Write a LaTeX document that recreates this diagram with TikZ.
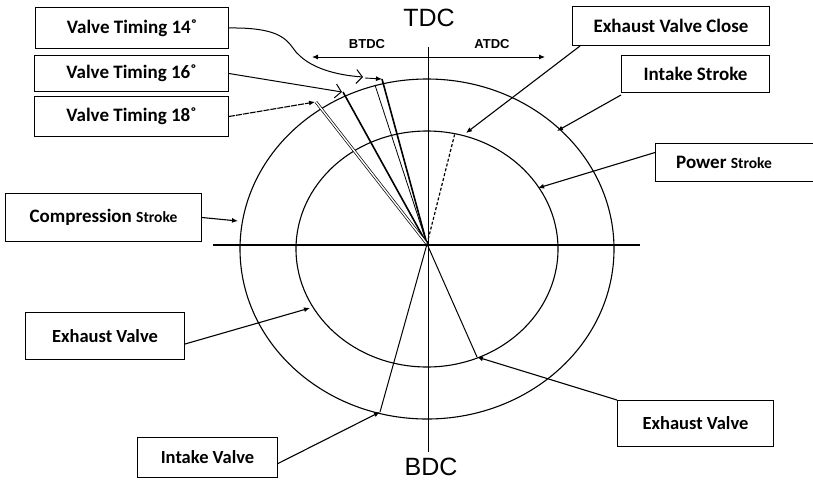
\documentclass[tikz,border=0pt]{standalone}
\usepackage{fontspec}
\setmainfont{Carlito}
\newfontfamily\arialf{Liberation Sans}
\usetikzlibrary{arrows.meta}
\begin{document}
\begin{tikzpicture}[x=1pt,y=-1pt,
  box/.style={draw, line width=1pt, anchor=north west, inner sep=0pt,
    font=\bfseries\fontsize{19}{22}\selectfont},
  sbox/.style={box, font=\bfseries\fontsize{18.5}{21}\selectfont},
  lbl/.style={font=\arialf\fontsize{25}{28}\selectfont},
  slbl/.style={font=\arialf\bfseries\fontsize{13}{14}\selectfont},
  pt/.style={-{Latex[length=6pt,width=5pt]}, line width=1.1pt},
  opt/.style={-{Straight Barb[length=6pt,width=14pt]}, line width=1pt},
  ell/.style={line width=1.1pt},
  rad/.style={line width=1pt}
]
\useasboundingbox (0,0) rectangle (813,480);

% boxes
\node[box, minimum width=193, minimum height=41] (v14) at (35,7) {Valve Timing 14˚};
\node[box, minimum width=194, minimum height=36] (v16) at (34,55) {Valve Timing 16˚};
\node[box, minimum width=194, minimum height=40] (v18) at (34,96) {Valve Timing 18˚};
\node[box, minimum width=197, minimum height=39] (evc) at (572,6) {Exhaust Valve Close};
\node[box, minimum width=148, minimum height=37] (is) at (621,55) {Intake Stroke};
\node[box, minimum width=170, minimum height=38] (ps) at (655,143) {};
\node[font=\bfseries\fontsize{19}{22}\selectfont, anchor=west, inner sep=0pt] (pst) at ([xshift=21pt]ps.west) {Power {\fontsize{15.5}{18}\selectfont Stroke}};
\node[box, minimum width=196, minimum height=48] (cs) at (5,193) {Compression {\fontsize{15.5}{18}\selectfont Stroke}};
\node[sbox, minimum width=159, minimum height=47] (evl) at (25,312) {Exhaust Valve};
\node[sbox, minimum width=140, minimum height=40] (iv) at (137,437) {Intake Valve};
\node[sbox, minimum width=156, minimum height=46] (evr) at (617,400) {Exhaust Valve};

% labels
\node[lbl, inner sep=0pt] (tdc) at (429,18) {TDC};
\node[lbl, inner sep=0pt] (bdc) at (431,467) {BDC};
\node[slbl] (btdc) at (367,44) {BTDC};
\node[slbl] (atdc) at (492,44) {ATDC};

% key points
\coordinate (O) at (427,244);
\coordinate (c) at (427,249);
\coordinate (vt) at (428,47);
\coordinate (vb) at (428,452);
\coordinate (hl) at (213,245);
\coordinate (hr) at (640,245);
\coordinate (al) at (312,57);
\coordinate (ar) at (545,57);

% axes
\draw[line width=0.8pt] (vt) -- (vb);
\draw[line width=1.6pt] (hl) -- (hr);
\draw[{Latex[length=6pt,width=5pt]}-{Latex[length=6pt,width=5pt]}, line width=0.9pt] (al) -- (ar);

% ellipses
\draw[ell] (c) ellipse[x radius=187, y radius=170];
\draw[ell] (c) ellipse[x radius=131, y radius=118];

% radial lines
\coordinate (r14a) at (382,79);
\coordinate (r14b) at (375,85);
\coordinate (r16) at (343,92);
\coordinate (r18) at (316,102);
\coordinate (rdash) at (455,133);
\coordinate (riv) at (380,412);
\coordinate (rev) at (477,357);
\draw[line width=1.6pt] (O) -- (r14a);
\draw[line width=0.8pt] (O) -- (r14b);
\draw[line width=1.6pt] (O) -- (r16);
\draw[double, double distance=1.4pt, line width=0.7pt] (O) -- (r18);
\draw[line width=1.2pt, dashed, dash pattern=on 3pt off 2pt] (O) -- (rdash);
\draw[rad] (O) -- (riv);
\draw[rad] (O) -- (rev);

% connectors
\coordinate (e14) at (363,77);
\coordinate (s14) at (365,78);
\coordinate (e16) at (342,92);
\coordinate (e18) at (315,102);
\coordinate (eevc) at (466,133);
\coordinate (eis) at (557,131);
\coordinate (eps) at (538,188);
\coordinate (ecs) at (238,221);
\coordinate (eevl) at (310,308);
\coordinate (eiv) at (380,412);
\coordinate (eevr) at (477,357);

\draw[opt] (v14.east) .. controls (292,27) and (288,47) .. (300,56) .. controls (313,68) and (335,75) .. (e14);
\draw[pt, line width=0.9pt] (s14) -- (r14a);
\draw[opt] (v16.east) -- (e16);
\draw[pt, dashed, dash pattern=on 6pt off 1pt] (v18.east) -- (e18);
\draw[pt] ([xshift=8pt]evc.south west) -- (eevc);
\draw[pt] ([yshift=-2pt]is.south west) -- (eis);
\draw[pt] ([yshift=10pt]ps.west) -- (eps);
\draw[pt] (cs.east) -- (ecs);
\draw[pt] ([yshift=-8pt]evl.east) -- (eevl);
\draw[pt] ([yshift=-6pt]iv.east) -- (eiv);
\draw[pt] (evr.north west) -- (eevr);
\end{tikzpicture}
\end{document}
